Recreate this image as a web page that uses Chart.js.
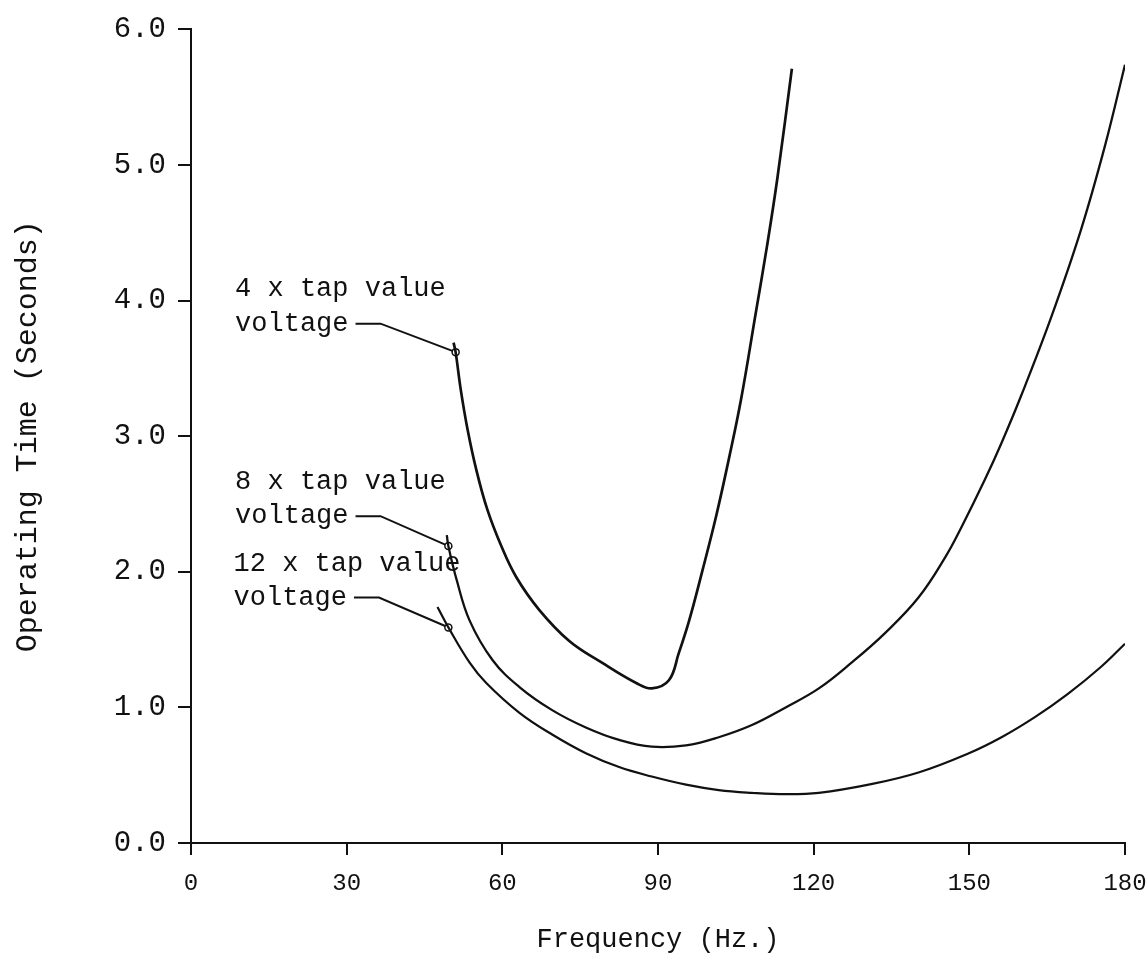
<!DOCTYPE html>
<html>
<head>
<meta charset="utf-8">
<script src="https://cdn.jsdelivr.net/npm/chart.js@4/dist/chart.umd.min.js"></script>
<style>
  html, body { margin: 0; padding: 0; background: #fff; }
  #wrap { width: 1147px; height: 960px; }
</style>
</head>
<body>
<div id="wrap"><canvas id="relayChart" width="1147" height="960"></canvas></div>
<script>
// curve readings, frequency (Hz) vs operating time (s)
const freq4x = [50.6, 51, 52, 53.3, 55, 57.1, 59.8, 62.7, 67.1, 72.9, 79.2, 85.8, 88.8, 92.1, 94, 96, 98.5, 101.2, 103.7, 106, 108.8, 111, 113, 115.8];
const time4x = [3.69, 3.62, 3.34, 3.05, 2.75, 2.46, 2.19, 1.96, 1.72, 1.49, 1.33, 1.18, 1.14, 1.2, 1.4, 1.64, 2.0, 2.41, 2.84, 3.27, 3.9, 4.4, 4.9, 5.71];

const freq8x = [49.3, 49.6, 51.2, 53.7, 58.1, 63.3, 69.6, 76.2, 82.5, 88.8, 95.4, 101.7, 108.1, 114.6, 121, 127.3, 133.8, 140.2, 145.4, 148.5, 153, 156.2, 160, 165.8, 171.5, 176.2, 180];
const time8x = [2.27, 2.19, 1.94, 1.64, 1.35, 1.15, 0.98, 0.85, 0.76, 0.71, 0.72, 0.78, 0.87, 1.0, 1.14, 1.33, 1.55, 1.81, 2.11, 2.33, 2.68, 2.95, 3.3, 3.88, 4.52, 5.15, 5.74];

const freq12x = [47.5, 49.6, 53.7, 56.9, 63.3, 69.6, 76.2, 82.5, 88.8, 95.4, 101.7, 108.1, 114.6, 121, 130.6, 140.2, 149.8, 156.2, 162.7, 169, 175.4, 180];
const time12x = [1.74, 1.59, 1.33, 1.18, 0.96, 0.8, 0.66, 0.56, 0.49, 0.43, 0.39, 0.37, 0.36, 0.37, 0.43, 0.52, 0.66, 0.78, 0.93, 1.1, 1.3, 1.47];

// marked points at the start of each curve
const markFreq = [51, 49.6, 49.6];
const markTime = [3.62, 2.19, 1.59];

const labelLines = [
    ['4 x tap value', 'voltage'],
    ['8 x tap value', 'voltage'],
    ['12 x tap value', 'voltage']
];

const xTicks = [0, 30, 60, 90, 120, 150, 180];
const yTicks = [0, 1, 2, 3, 4, 5, 6];

const FONT = '"Liberation Mono", "DejaVu Sans Mono", monospace';
const INK = '#111';

// where each label block sits (data units) - layout only
const labelPos = [
    { x: 8.5, y1: 4.09, y2: 3.83 },
    { x: 8.5, y1: 2.66, y2: 2.41 },
    { x: 8.2, y1: 2.06, y2: 1.81 }
];

function pts(xs, ys) {
    return xs.map((x, i) => ({ x: x, y: ys[i] }));
}

const leaderPlugin = {
    id: 'leaders',
    afterDatasetsDraw(chart) {
        const ctx = chart.ctx;
        const xs = chart.scales.x, ys = chart.scales.y;
        ctx.save();
        ctx.font = '27px ' + FONT;
        ctx.fillStyle = INK;
        ctx.strokeStyle = INK;
        ctx.lineWidth = 2;
        ctx.textBaseline = 'middle';
        labelLines.forEach((lines, i) => {
            const p = labelPos[i];
            const lx = xs.getPixelForValue(p.x);
            const l1 = ys.getPixelForValue(p.y1);
            const l2 = ys.getPixelForValue(p.y2);
            ctx.fillText(lines[0], lx, l1);
            ctx.fillText(lines[1], lx, l2);
            const w = ctx.measureText(lines[1]).width;
            const dx = xs.getPixelForValue(markFreq[i]);
            const dy = ys.getPixelForValue(markTime[i]);
            const ang = Math.atan2(dy - l2, dx - (lx + w + 32));
            ctx.beginPath();
            ctx.moveTo(lx + w + 7, l2);
            ctx.lineTo(lx + w + 32, l2);
            ctx.lineTo(dx - 3.5 * Math.cos(ang), dy - 3.5 * Math.sin(ang));
            ctx.stroke();
        });
        ctx.restore();
    }
};

function curve(label, xs, ys, width) {
    return {
        label: label,
        data: pts(xs, ys),
        borderColor: INK,
        borderWidth: width,
        pointRadius: 0,
        fill: false,
        tension: 0.4
    };
}

const ctx = document.getElementById('relayChart').getContext('2d');
new Chart(ctx, {
    type: 'line',
    data: {
        datasets: [
            curve('4 x tap value voltage', freq4x, time4x, 2.7),
            curve('8 x tap value voltage', freq8x, time8x, 2.3),
            curve('12 x tap value voltage', freq12x, time12x, 2.2),
            {
                type: 'scatter',
                label: 'marks',
                data: pts(markFreq, markTime),
                pointRadius: 3.5,
                pointBorderWidth: 1.5,
                pointBackgroundColor: '#fff',
                pointBorderColor: INK
            }
        ]
    },
    options: {
        responsive: false,
        animation: false,
        layout: { padding: { top: 28, right: 22, left: 0, bottom: 0 } },
        plugins: {
            legend: { display: false },
            tooltip: { enabled: false }
        },
        scales: {
            x: {
                type: 'linear',
                min: 0,
                max: 180,
                afterBuildTicks: (s) => { s.ticks = xTicks.map(v => ({ value: v })); },
                afterFit: (s) => {
                    s.height = 117;
                    s.paddingLeft = 0;
                    s.paddingRight = 0;
                },
                ticks: {
                    color: INK,
                    padding: 14,
                    font: { family: FONT, size: 24 },
                    callback: (v) => String(v)
                },
                grid: { drawOnChartArea: false, drawTicks: true, tickLength: 12, color: INK, lineWidth: 2 },
                border: { display: true, color: INK, width: 2 },
                title: {
                    display: true,
                    text: 'Frequency (Hz.)',
                    color: INK,
                    font: { family: FONT, size: 27 },
                    padding: { top: 0, bottom: 4 }
                }
            },
            y: {
                type: 'linear',
                min: 0,
                max: 6,
                afterBuildTicks: (s) => { s.ticks = yTicks.map(v => ({ value: v })); },
                afterFit: (s) => { s.width = 191; },
                ticks: {
                    color: INK,
                    padding: 12,
                    font: { family: FONT, size: 29 },
                    callback: (v) => Number(v).toFixed(1)
                },
                grid: { drawOnChartArea: false, drawTicks: true, tickLength: 13, color: INK, lineWidth: 2 },
                border: { display: true, color: INK, width: 2 },
                title: {
                    display: true,
                    text: 'Operating Time (Seconds)',
                    color: INK,
                    font: { family: FONT, size: 30 },
                    padding: { top: 10, bottom: 0 }
                }
            }
        }
    },
    plugins: [leaderPlugin]
});
</script>
</body>
</html>
